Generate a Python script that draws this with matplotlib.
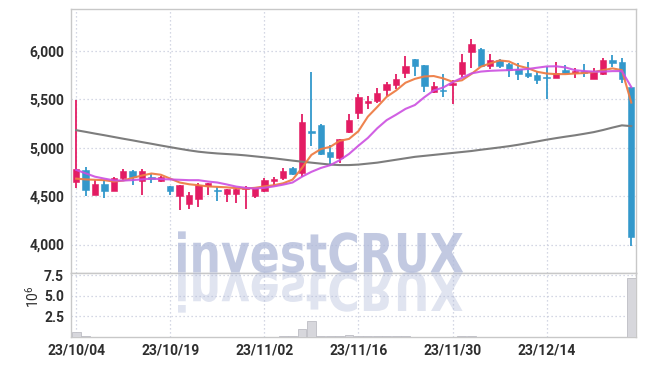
import matplotlib
matplotlib.use("Agg")
import matplotlib.pyplot as plt
import numpy as np
from matplotlib.textpath import TextPath
from matplotlib.patches import PathPatch
from matplotlib.font_manager import FontProperties
from matplotlib.transforms import Affine2D, IdentityTransform
from matplotlib.ticker import FuncFormatter

# daily candles (index = trading day)
opens = [4650, 4770, 4515, 4620, 4555, 4690, 4760, 4660, 4690, 4660,
         4600, 4500, 4415, 4465, 4605, 4565, 4525, 4517, 4570, 4500,
         4555, 4660, 4690, 4790, 4735, 5170, 5230, 4955, 4895, 5165,
         5360, 5465, 5480, 5595, 5645, 5775, 5915, 5850, 5575, 5595,
         5645, 5755, 5990, 6020, 5845, 5905, 5865, 5810, 5773, 5749,
         5730, 5720, 5800, 5766, 5790, 5708, 5756, 5904, 5880, 5630]
highs = [5490, 4800, 4670, 4670, 4700, 4780, 4765, 4780, 4730, 4705,
         4605, 4615, 4545, 4635, 4640, 4590, 4575, 4585, 4600, 4585,
         4690, 4700, 4785, 4795, 5350, 5780, 5240, 5025, 5090, 5345,
         5550, 5535, 5620, 5680, 5765, 5950, 5920, 5855, 5680, 5755,
         5700, 5965, 6120, 6025, 5965, 5910, 5870, 5870, 5880, 5795,
         5835, 5880, 5850, 5820, 5865, 5825, 5930, 5955, 5930, 5630]
lows = [4580, 4500, 4510, 4480, 4550, 4670, 4610, 4510, 4630, 4650,
        4510, 4355, 4370, 4390, 4515, 4450, 4440, 4425, 4370, 4480,
        4545, 4615, 4670, 4720, 4700, 5015, 4925, 4810, 4845, 5155,
        5300, 5400, 5465, 5530, 5605, 5715, 5740, 5575, 5560, 5525,
        5450, 5730, 5820, 5840, 5810, 5820, 5730, 5700, 5720, 5655,
        5500, 5718, 5760, 5720, 5730, 5705, 5750, 5835, 5665, 3985]
closes = [4780, 4560, 4620, 4555, 4690, 4760, 4700, 4760, 4680, 4695,
          4555, 4610, 4510, 4610, 4635, 4555, 4570, 4578, 4585, 4580,
          4665, 4680, 4760, 4725, 5265, 5155, 4930, 4900, 5085, 5285,
          5525, 5480, 5560, 5655, 5710, 5840, 5845, 5640, 5640, 5588,
          5665, 5880, 6070, 5845, 5905, 5845, 5800, 5760, 5739, 5697,
          5722, 5773, 5773, 5790, 5766, 5777, 5904, 5876, 5705, 4080]

# volume in millions of shares
volumes = [0.62, 0.10, 0.02, 0.02, 0.02, 0.02, 0.02, 0.02, 0.02, 0.02,
           0.02, 0.02, 0.02, 0.02, 0.02, 0.02, 0.02, 0.02, 0.02, 0.02,
           0.02, 0.02, 0.03, 0.04, 1.00, 1.98, 0.10, 0.03, 0.04, 0.22,
           0.10, 0.03, 0.09, 0.09, 0.09, 0.09, 0.02, 0.02, 0.02, 0.02,
           0.02, 0.09, 0.09, 0.02, 0.02, 0.02, 0.02, 0.02, 0.02, 0.02,
           0.02, 0.02, 0.02, 0.02, 0.02, 0.02, 0.02, 0.02, 0.02, 7.15]

# moving average lines as drawn on the chart
ma_fast = [4680, 4672, 4668, 4664, 4650, 4660, 4688, 4712, 4733, 4720,
           4680, 4640, 4622, 4612, 4600, 4595, 4590, 4582, 4578, 4585,
           4600, 4612, 4632, 4670, 4790, 4925, 4985, 5008, 5070, 5090,
           5170, 5320, 5420, 5525, 5590, 5670, 5710, 5735, 5739, 5715,
           5680, 5695, 5760, 5835, 5870, 5900, 5890, 5845, 5820, 5783,
           5765, 5759, 5759, 5765, 5770, 5780, 5800, 5818, 5800, 5465]
ma_mid = [4770, 4735, 4700, 4680, 4662, 4660, 4665, 4672, 4680, 4675,
          4672, 4668, 4664, 4664, 4650, 4640, 4620, 4598, 4585, 4578,
          4585, 4600, 4618, 4640, 4700, 4750, 4790, 4819, 4870, 4935,
          5020, 5100, 5200, 5284, 5340, 5400, 5440, 5520, 5590, 5620,
          5675, 5720, 5766, 5785, 5793, 5797, 5800, 5805, 5812, 5825,
          5838, 5840, 5828, 5800, 5790, 5785, 5785, 5790, 5790, 5625]
ma_slow = [5180, 5163, 5145, 5128, 5110, 5092, 5075, 5057, 5040, 5022,
           5005, 4988, 4972, 4958, 4948, 4940, 4934, 4928, 4920, 4910,
           4900, 4890, 4878, 4866, 4855, 4845, 4835, 4825, 4820, 4820,
           4825, 4835, 4845, 4860, 4875, 4890, 4905, 4915, 4925, 4935,
           4945, 4955, 4965, 4978, 4990, 5002, 5015, 5030, 5047, 5064,
           5082, 5098, 5113, 5127, 5143, 5160, 5182, 5207, 5230, 5222]

tick_labels = ["23/10/04", "23/10/19", "23/11/02", "23/11/16", "23/11/30", "23/12/14"]

RED = "#e31c63"
BLUE = "#3398cb"
GRID = "#c6cadc"
SPINE = "#c8c8c8"
TXT = "#2e2e2e"

plt.rcParams["font.family"] = ["Roboto", "DejaVu Sans"]

o = np.array(opens); c = np.array(closes)
h = np.array(highs); l = np.array(lows)
x = np.arange(len(o))
cols = np.where(c >= o, RED, BLUE)

W, H = 645, 366
fig = plt.figure(figsize=(W / 100, H / 100), dpi=100)
left, right, top, mid, bot = 71, 636, 9.3, 272.5, 336.7
ax = fig.add_axes([left / W, 1 - mid / H, (right - left) / W, (mid - top) / H])
axv = fig.add_axes([left / W, 1 - bot / H, (right - left) / W, (bot - mid) / H], sharex=ax)

# candles
ax.vlines(x, l, h, colors=cols, lw=1.3, zorder=3)
body_h = np.maximum(np.abs(c - o), 12)
ax.bar(x, body_h, bottom=np.minimum(o, c), width=0.68, color=cols,
       edgecolor=cols, lw=0.4, zorder=4)

# moving averages
ax.plot(x, ma_slow, color="#7d7d7d", lw=1.5, zorder=5)
ax.plot(x, ma_fast, color="#ee7d45", lw=1.5, alpha=0.95, zorder=6)
ax.plot(x, ma_mid, color="#cc4fe0", lw=1.5, alpha=0.9, zorder=6)

# volume
axv.bar(x, volumes, width=0.95, color="#d7d7dc", edgecolor="#bdbdc4", lw=0.6, zorder=3)

ax.set_xlim(-0.55, 59.5)
ax.set_ylim(3711, 6428)
axv.set_ylim(0, 7.85)

ax.set_yticks([4000, 4500, 5000, 5500, 6000])
ax.yaxis.set_major_formatter(FuncFormatter(lambda v, p: f"{v:,.0f}"))
axv.set_yticks([2.5, 5.0, 7.5])
axv.yaxis.set_major_formatter(FuncFormatter(lambda v, p: f"{v:.1f}"))
axv.set_xticks(np.arange(0, 60, 10))
axv.set_xticklabels(tick_labels)
ax.tick_params(axis="x", labelbottom=False)

for a in (ax, axv):
    a.grid(True, color=GRID, lw=0.9, ls=(0, (1, 2.2)), zorder=0)
    a.set_axisbelow(True)
    a.tick_params(length=0, labelsize=10, colors=TXT, pad=5)
    for s in a.spines.values():
        s.set_color(SPINE)
        s.set_linewidth(1.0)
    for lab in a.get_xticklabels() + a.get_yticklabels():
        lab.set_fontweight("bold")

fig.text(33 / W, 1 - 297 / H, r"$\mathregular{10^6}$", rotation=90,
         ha="center", va="center", fontsize=10, color=TXT)

# watermark with reflection
fp = FontProperties(family="DejaVu Sans", weight="bold")
tp = TextPath((0, 0), "investCRUX", size=1, prop=fp)
bb = tp.get_extents()
sx = (463 - 178) / bb.width
sy = 39 / 0.729
base = H - 272
wm = Affine2D().translate(-bb.x0, 0).scale(sx, sy).translate(178, base)
wm_ref = Affine2D().translate(-bb.x0, 0).scale(sx, -sy).translate(178, base)
fig.add_artist(PathPatch(wm.transform_path(tp), transform=IdentityTransform(),
                         facecolor="#aeb8d8", edgecolor="none", alpha=0.75, zorder=10))
fig.add_artist(PathPatch(wm_ref.transform_path(tp), transform=IdentityTransform(),
                         facecolor="#aeb8d8", edgecolor="none", alpha=0.38, zorder=10))

fig.savefig("out.png", dpi=100)
